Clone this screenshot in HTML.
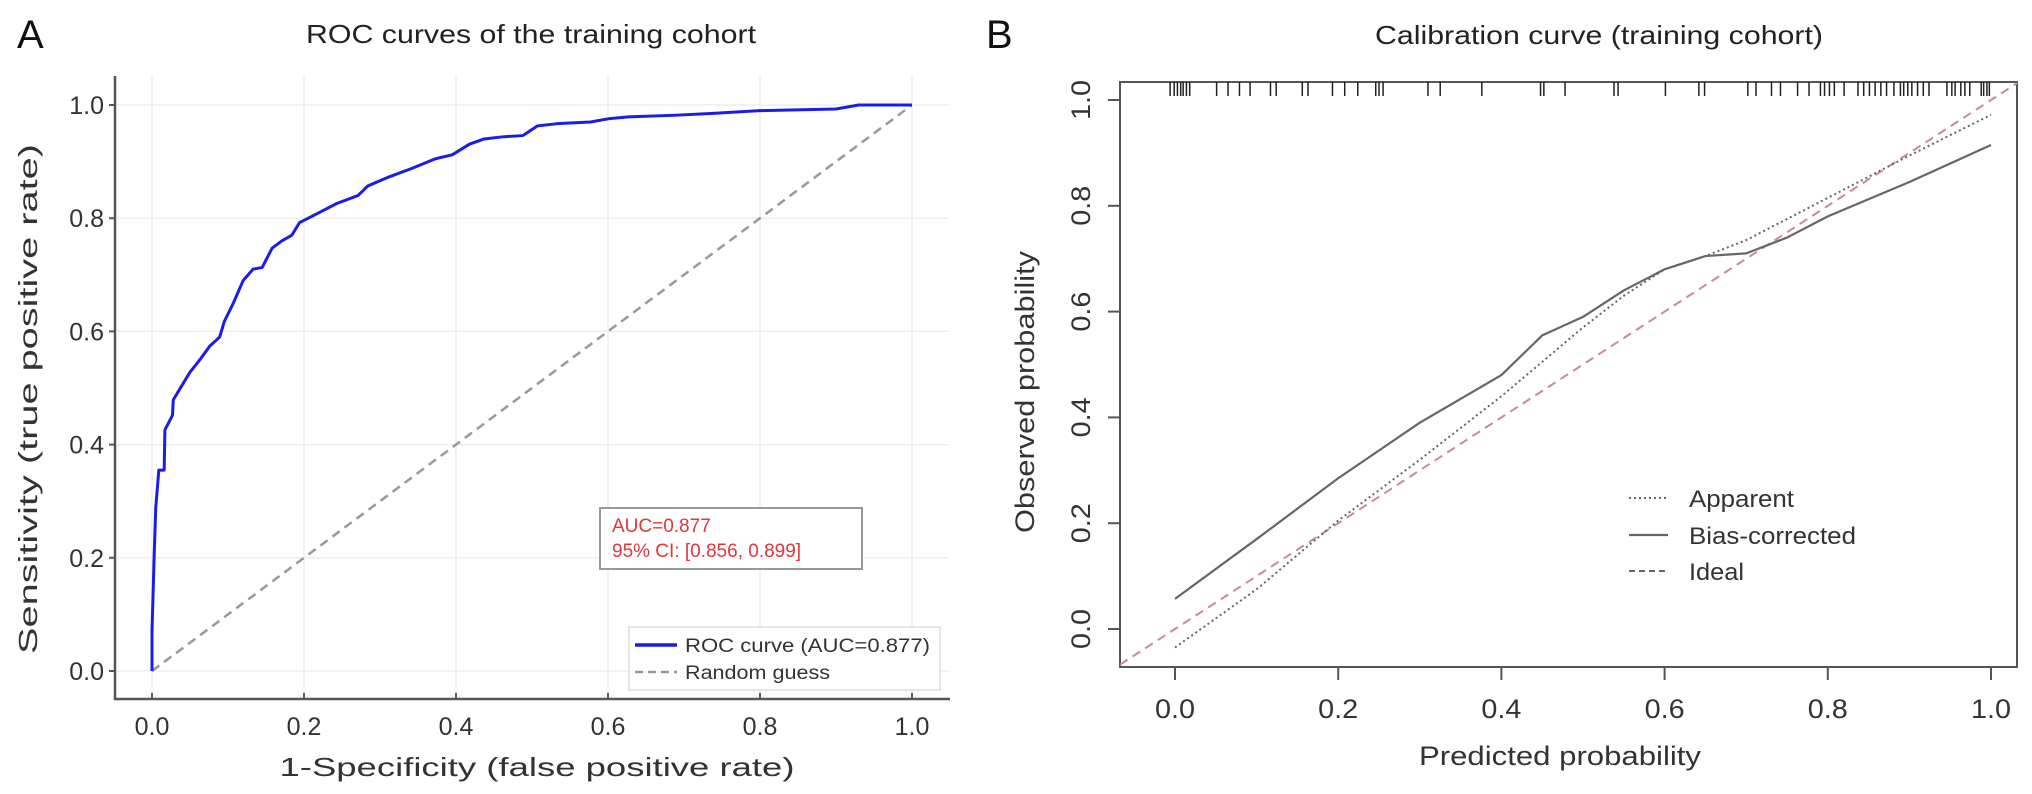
<!DOCTYPE html>
<html><head><meta charset="utf-8">
<style>
html,body{margin:0;padding:0;background:#fff;}
svg{display:block;font-family:"Liberation Sans",Arial,sans-serif;}
</style></head>
<body>
<svg id="fig" width="2032" height="794" viewBox="0 0 2032 794" xmlns="http://www.w3.org/2000/svg">
  <g id="panelA"></g>
  <g id="panelB"></g>
</svg>
<script>
// ---------- Panel A data ----------
const rocFpr = [0,0,0.003,0.005,0.009,0.016,0.017,0.027,0.028,0.036,0.05,0.063,0.076,0.089,0.095,0.107,0.12,0.133,0.145,0.158,0.171,0.184,0.194,0.22,0.243,0.271,0.284,0.31,0.342,0.373,0.395,0.418,0.437,0.463,0.488,0.507,0.533,0.577,0.602,0.627,0.69,0.735,0.8,0.9,0.93,1.0];
const rocTpr = [0,0.07,0.21,0.29,0.355,0.355,0.426,0.452,0.479,0.497,0.528,0.55,0.574,0.59,0.617,0.65,0.69,0.71,0.713,0.747,0.76,0.77,0.792,0.81,0.826,0.84,0.857,0.872,0.888,0.905,0.912,0.931,0.94,0.944,0.946,0.963,0.967,0.97,0.976,0.979,0.982,0.985,0.99,0.993,1.0,1.0];
const ticksA = [0,0.2,0.4,0.6,0.8,1.0];
const tickLabelsA = ["0.0","0.2","0.4","0.6","0.8","1.0"];

// ---------- Panel B data ----------
const calPred = [0,0.1,0.2,0.3,0.4,0.45,0.5,0.55,0.6,0.65,0.7,0.75,0.8,0.9,1.0];
const apparentObs = [-0.035,0.075,0.205,0.32,0.44,0.505,0.57,0.63,0.68,0.705,0.735,0.775,0.815,0.895,0.972];
const biasObs = [0.057,0.17,0.285,0.39,0.48,0.555,0.59,0.64,0.68,0.705,0.71,0.74,0.78,0.845,0.915];
const rugPred = [-0.006,-0.001,0.003,0.007,0.010,0.014,0.018,0.051,0.065,0.079,0.092,0.117,0.124,0.156,0.163,0.193,0.208,0.224,0.246,0.250,0.255,0.31,0.325,0.376,0.448,0.452,0.478,0.538,0.543,0.601,0.642,0.649,0.702,0.712,0.731,0.742,0.763,0.777,0.791,0.796,0.802,0.808,0.82,0.837,0.844,0.851,0.858,0.865,0.872,0.881,0.889,0.893,0.898,0.903,0.910,0.917,0.924,0.946,0.952,0.956,0.963,0.968,0.974,0.988,0.991,0.995,0.998];
const ticksB = [0,0.2,0.4,0.6,0.8,1.0];
const tickLabelsB = ["0.0","0.2","0.4","0.6","0.8","1.0"];

const NS = "http://www.w3.org/2000/svg";
function mk(parent, tag, attrs, text){
  const e = document.createElementNS(NS, tag);
  for (const k in attrs) e.setAttribute(k, attrs[k]);
  if (text !== undefined) e.textContent = text;
  parent.appendChild(e);
  return e;
}
let e;
// ================= PANEL A =================
const A = document.getElementById('panelA');
const ax = v => 152 + v*760;
const ay = v => 671 - v*566;

e = mk(A,'text',{x:17,y:48,'font-size':40,fill:'#111'},'A');


e = mk(A,'text',{x:531,y:43,'font-size':26,fill:'#222','text-anchor':'middle',textLength:450,lengthAdjust:'spacingAndGlyphs'},'ROC curves of the training cohort');



// grid
ticksA.forEach((t,i)=>{
  e = mk(A,'line',{x1:ax(t),x2:ax(t),y1:76,y2:699,stroke:'#eeeeee','stroke-width':1.5});
  
  
  e = mk(A,'line',{x1:115,x2:949,y1:ay(t),y2:ay(t),stroke:'#eeeeee','stroke-width':1.5});
  
  
});
// axes
e = mk(A,'line',{x1:115,x2:115,y1:76,y2:700,stroke:'#555','stroke-width':2.5});


e = mk(A,'line',{x1:114,x2:950,y1:699,y2:699,stroke:'#555','stroke-width':2.5});


ticksA.forEach((t,i)=>{
  e = mk(A,'line',{x1:ax(t),x2:ax(t),y1:699,y2:693,stroke:'#555','stroke-width':2});
  
  
  e = mk(A,'text',{x:ax(t),y:735,'font-size':25,fill:'#333','text-anchor':'middle'},tickLabelsA[i]);
  
  
  e = mk(A,'line',{x1:109,x2:115,y1:ay(t),y2:ay(t),stroke:'#555','stroke-width':2});
  
  
  e = mk(A,'text',{x:104,y:ay(t)+9,'font-size':25,fill:'#333','text-anchor':'end'},tickLabelsA[i]);
  
  
});
e = mk(A,'text',{x:537,y:776,'font-size':26,fill:'#333','text-anchor':'middle',textLength:515,lengthAdjust:'spacingAndGlyphs'},'1-Specificity (false positive rate)');


e = mk(A,'text',{x:0,y:0,'font-size':26,fill:'#333','text-anchor':'middle',transform:'translate(37,399) rotate(-90)',textLength:510,lengthAdjust:'spacingAndGlyphs'},'Sensitivity (true positive rate)');



// diagonal
e = mk(A,'line',{x1:ax(0),y1:ay(0),x2:ax(1),y2:ay(1),stroke:'#999','stroke-width':2.5,'stroke-dasharray':'9,6'});


// ROC
e = mk(A,'polyline',{points:rocFpr.map((v,i)=>ax(v)+','+ay(rocTpr[i])).join(' '),fill:'none',stroke:'#1c1ce6','stroke-width':3,'stroke-linejoin':'round'});



// AUC box
e = mk(A,'rect',{x:600,y:508,width:262,height:61,fill:'#fff',stroke:'#999','stroke-width':2});


e = mk(A,'text',{x:612,y:532,'font-size':19,fill:'#e0363c'},'AUC=0.877');


e = mk(A,'text',{x:612,y:557,'font-size':19,fill:'#e0363c'},'95% CI: [0.856, 0.899]');



// legend A
e = mk(A,'rect',{x:629,y:627,width:311,height:63,fill:'#fff',stroke:'#ddd','stroke-width':1.5});


e = mk(A,'line',{x1:635,x2:677,y1:645,y2:645,stroke:'#1c1ce6','stroke-width':3.5});


e = mk(A,'text',{x:685,y:652,'font-size':19,fill:'#333',textLength:245,lengthAdjust:'spacingAndGlyphs'},'ROC curve (AUC=0.877)');


e = mk(A,'line',{x1:635,x2:677,y1:672,y2:672,stroke:'#999','stroke-width':2.5,'stroke-dasharray':'8,5'});


e = mk(A,'text',{x:685,y:679,'font-size':19,fill:'#333',textLength:145,lengthAdjust:'spacingAndGlyphs'},'Random guess');



// ================= PANEL B =================
const B = document.getElementById('panelB');
const bx = v => 1175 + v*816;
const by = v => 629 - v*529;
const L=1120,R=2017,T=82,Bt=667;

e = mk(B,'text',{x:986,y:48,'font-size':40,fill:'#111'},'B');


e = mk(B,'text',{x:1599,y:44,'font-size':26,fill:'#222','text-anchor':'middle',textLength:448,lengthAdjust:'spacingAndGlyphs'},'Calibration curve (training cohort)');



e = mk(B,'rect',{x:L,y:T,width:R-L,height:Bt-T,fill:'none',stroke:'#555','stroke-width':2});



ticksB.forEach((t,i)=>{
  e = mk(B,'line',{x1:bx(t),x2:bx(t),y1:Bt,y2:Bt+13,stroke:'#555','stroke-width':2});
  
  
  e = mk(B,'text',{x:bx(t),y:718,'font-size':27,fill:'#333','text-anchor':'middle',textLength:40,lengthAdjust:'spacingAndGlyphs'},tickLabelsB[i]);
  
  
  e = mk(B,'line',{x1:L-12,x2:L,y1:by(t),y2:by(t),stroke:'#555','stroke-width':2});
  
  
  e = mk(B,'text',{x:0,y:0,'font-size':27,fill:'#333','text-anchor':'middle',transform:'translate(1090,'+by(t)+') rotate(-90)',textLength:40,lengthAdjust:'spacingAndGlyphs'},tickLabelsB[i]);
  
  
});
e = mk(B,'text',{x:1560,y:765,'font-size':27,fill:'#333','text-anchor':'middle',textLength:282,lengthAdjust:'spacingAndGlyphs'},'Predicted  probability');


e = mk(B,'text',{x:0,y:0,'font-size':27,fill:'#333','text-anchor':'middle',transform:'translate(1034,392) rotate(-90)',textLength:282,lengthAdjust:'spacingAndGlyphs'},'Observed probability');



// rug
rugPred.forEach(p=>{
  e = mk(B,'line',{x1:bx(p),x2:bx(p),y1:T,y2:T+14,stroke:'#222','stroke-width':1.5});
  
  
});
// ideal line clipped to frame
const lo = Math.max((L-1175)/816,(629-Bt)/529), hi = Math.min((R-1175)/816,(629-T)/529);
e = mk(B,'line',{x1:bx(lo),y1:by(lo),x2:bx(hi),y2:by(hi),stroke:'#c98a90','stroke-width':2,'stroke-dasharray':'9,6'});


e = mk(B,'polyline',{points:calPred.map((v,i)=>bx(v)+','+by(apparentObs[i])).join(' '),fill:'none',stroke:'#666','stroke-width':2,'stroke-dasharray':'2,3'});


e = mk(B,'polyline',{points:calPred.map((v,i)=>bx(v)+','+by(biasObs[i])).join(' '),fill:'none',stroke:'#666','stroke-width':2.2,'stroke-linejoin':'round'});



// legend B
e = mk(B,'line',{x1:1629,x2:1668,y1:498,y2:498,stroke:'#666','stroke-width':2,'stroke-dasharray':'2,3'});


e = mk(B,'text',{x:1689,y:507,'font-size':24,fill:'#333',textLength:105,lengthAdjust:'spacingAndGlyphs'},'Apparent');


e = mk(B,'line',{x1:1629,x2:1668,y1:535,y2:535,stroke:'#666','stroke-width':2.2});


e = mk(B,'text',{x:1689,y:544,'font-size':24,fill:'#333',textLength:167,lengthAdjust:'spacingAndGlyphs'},'Bias-corrected');


e = mk(B,'line',{x1:1629,x2:1668,y1:571,y2:571,stroke:'#666','stroke-width':2,'stroke-dasharray':'6,4'});


e = mk(B,'text',{x:1689,y:580,'font-size':24,fill:'#333',textLength:55,lengthAdjust:'spacingAndGlyphs'},'Ideal');


</script>
</body></html>
